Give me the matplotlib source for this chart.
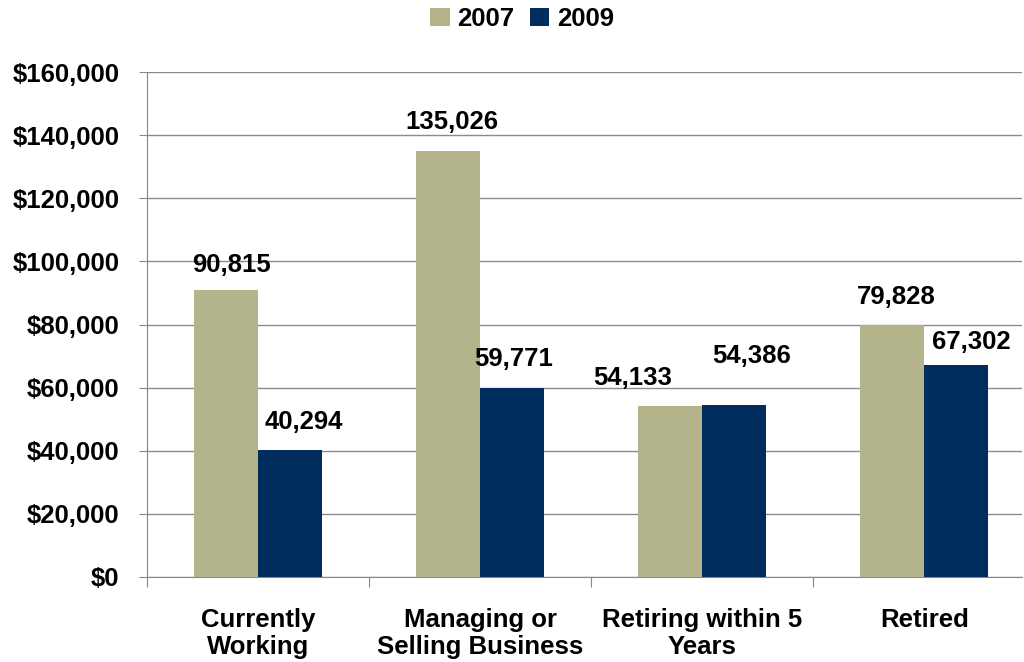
import numpy as np
import matplotlib.pyplot as plt
from matplotlib.ticker import FuncFormatter

categories = ['Currently\nWorking', 'Managing or\nSelling Business', 'Retiring within 5\nYears', 'Retired']
values_2007 = [90815, 135026, 54133, 79828]
values_2009 = [40294, 59771, 54386, 67302]
series_names = ['2007', '2009']
colors = ['#B3B38C', '#002D5E']

# label nudges in pixels (dx, dy above bar top), as placed in the original
offsets_2007 = [(5, 25), (4, 29), (-38, 28), (4, 28)]
offsets_2009 = [(14, 28), (2, 29), (17, 49), (15, 23)]

plt.rcParams['font.family'] = ['Liberation Sans', 'DejaVu Sans']
plt.rcParams['font.weight'] = 'bold'
fs = 18.5

fig = plt.figure(figsize=(10.24, 6.62), dpi=100)
ax = fig.add_axes([147 / 1024, 1 - 577 / 662, (1022 - 147) / 1024, (577 - 72) / 662])

x = np.arange(len(categories))
w = 0.288
b1 = ax.bar(x - w / 2, values_2007, w, color=colors[0], label=series_names[0], zorder=3)
b2 = ax.bar(x + w / 2, values_2009, w, color=colors[1], label=series_names[1], zorder=3)

for bars, offs in ((b1, offsets_2007), (b2, offsets_2009)):
    for r, (dx, dy) in zip(bars, offs):
        ax.annotate(f'{int(r.get_height()):,}', (r.get_x() + r.get_width() / 2, r.get_height()),
                    xytext=(dx, dy), textcoords='offset pixels', ha='center', va='center',
                    fontsize=fs, fontweight='bold')

ax.set_ylim(0, 160000)
ax.set_yticks(np.arange(0, 160001, 20000))
ax.yaxis.set_major_formatter(FuncFormatter(lambda v, p: f'${int(v):,}'))
ax.set_xlim(-0.5, 3.44)
ax.set_xticks(np.arange(-0.5, 3.5, 1.0))
ax.set_xticklabels([])
ax.set_xticks(x, minor=True)
ax.set_xticklabels(categories, minor=True, fontsize=fs, fontweight='bold')
ax.tick_params(axis='x', which='minor', length=0, pad=22)
ax.tick_params(axis='x', which='major', length=7, color='#888888')
ax.tick_params(axis='y', length=6, color='#888888', labelsize=fs, pad=14)
for lbl in ax.get_yticklabels():
    lbl.set_fontweight('bold')

ax.grid(axis='y', color='#8C8C8C', linewidth=1, zorder=0)
for s in ['top', 'right']:
    ax.spines[s].set_visible(False)
ax.spines['left'].set_color('#888888')
ax.spines['bottom'].set_color('#888888')

fig.legend(loc='center', bbox_to_anchor=(0.51, 1 - 19 / 662), ncol=2, frameon=False,
           fontsize=fs, handlelength=0.75, handleheight=0.75, handletextpad=0.3,
           columnspacing=0.6, borderpad=0)

fig.savefig('out.png', dpi=100)
